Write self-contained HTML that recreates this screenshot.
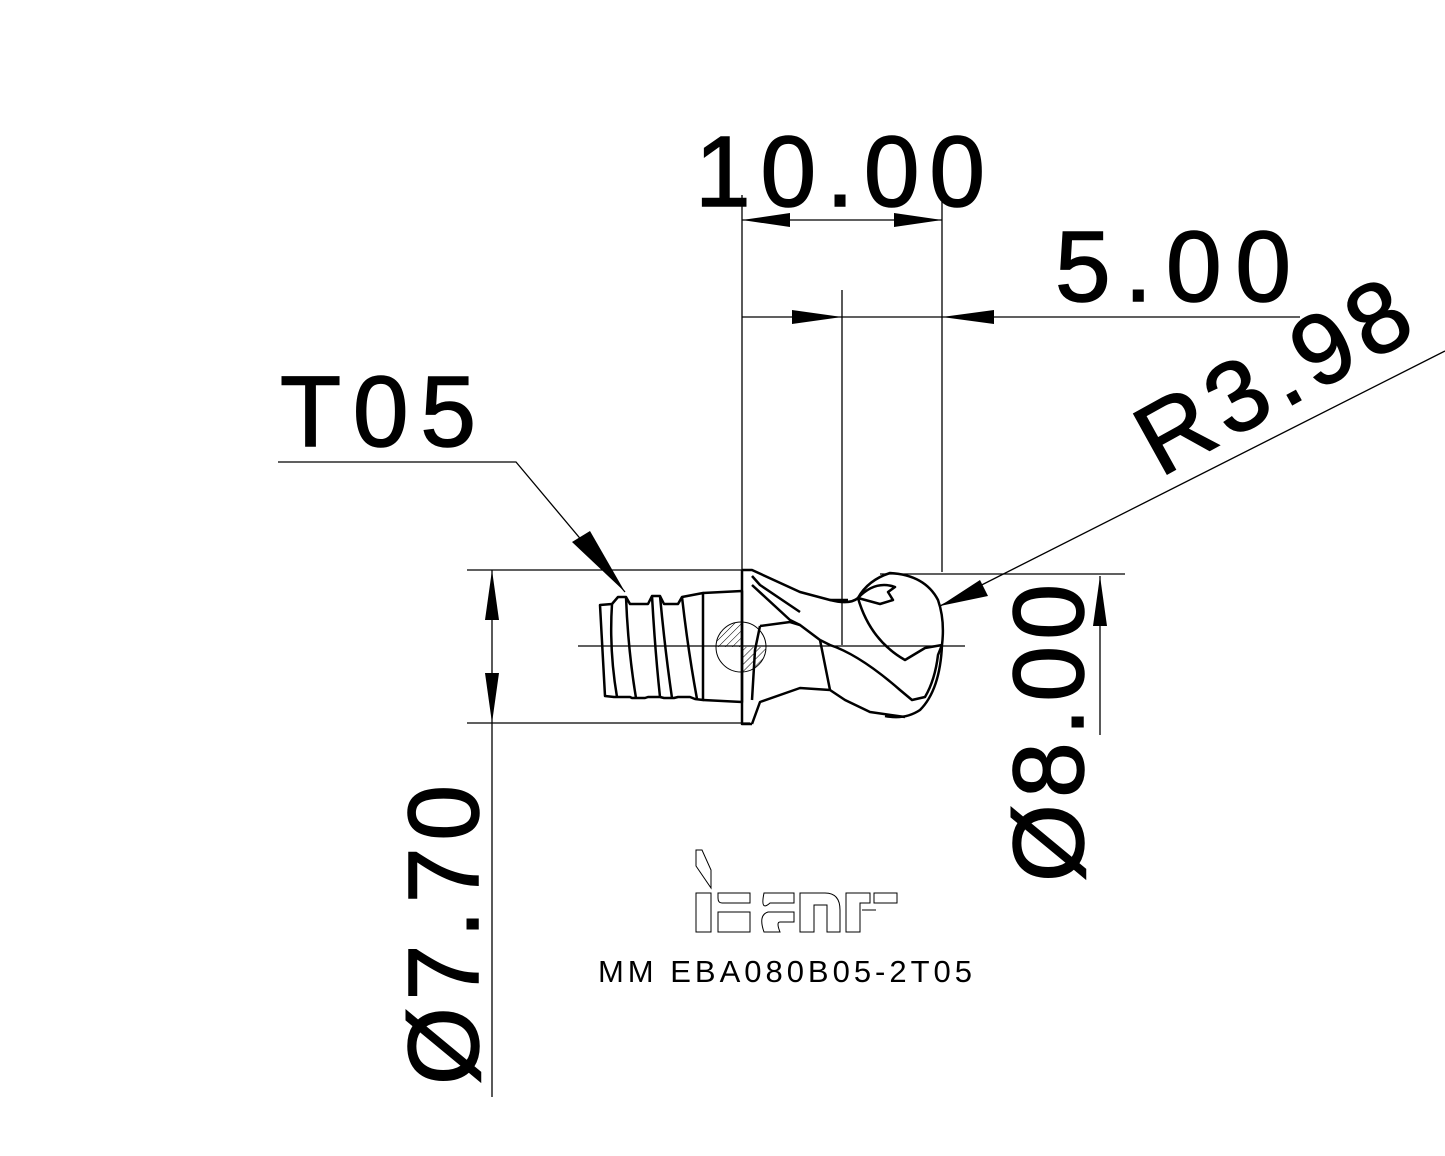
<!DOCTYPE html>
<html><head><meta charset="utf-8"><style>html,body{margin:0;padding:0;background:#fff}svg{display:block}</style></head>
<body>
<svg width="1445" height="1156" viewBox="0 0 1445 1156" xmlns="http://www.w3.org/2000/svg" font-family="Liberation Sans, sans-serif">
<defs>
<pattern id="h" width="5" height="5" patternUnits="userSpaceOnUse" patternTransform="rotate(45)"><line x1="0" y1="0" x2="0" y2="5" stroke="#000" stroke-width="1"/></pattern>
</defs>
<g stroke="#000" stroke-width="1.3" fill="none">
<line x1="742" y1="195" x2="742" y2="570"/>
<line x1="942" y1="195" x2="942" y2="572"/>
<line x1="742" y1="220" x2="942" y2="220"/>
<line x1="742" y1="317" x2="1300" y2="317"/>
<line x1="842" y1="290" x2="842" y2="645"/>
<line x1="578" y1="646" x2="965" y2="646"/>
<line x1="467" y1="570" x2="742" y2="570"/>
<line x1="467" y1="723" x2="750" y2="723"/>
<line x1="492" y1="570" x2="492" y2="1097"/>
<line x1="880" y1="574" x2="1125" y2="574"/>
<line x1="1100" y1="576" x2="1100" y2="735"/>
<polyline points="278,462 516,462 625,592"/>
<line x1="1445" y1="351" x2="940" y2="606"/>
</g>
<g fill="#000">
<polygon points="742,220 790,213 790,227"/>
<polygon points="942,220 894,213 894,227"/>
<polygon points="842,317 792,310 792,324"/>
<polygon points="942,317 994,310 994,324"/>
<polygon points="492,570 485,620 499,620"/>
<polygon points="492,723 485,673 499,673"/>
<polygon points="1100,576 1093,626 1107,626"/>
<polygon points="625,592 572,542 590,531"/>
<polygon points="940,606 980,580 988,596"/>
</g>
<g stroke="#000" stroke-width="2.5" fill="none" stroke-linejoin="round">
<path d="M600,605 L612,604 L618,597 L626,597 L630,604 L648,604 L652,596 L660,596 L664,604 L678,604 L682,597 L703,593 L703,700 L695,699 L690,697 L678,697 L674,698 L664,698 L660,697 L648,697 L645,698 L632,698 L630,697 L614,697 L605,696 Z"/>
<path d="M612,604 Q609,650 617,697 M626,597 Q628,650 636,698 M652,596 Q655,650 660,697 M660,596 Q665,650 672,698 M682,597 Q688,650 697,699"/>
<path d="M703,593 L742,591 L742,702 L703,700"/>
<path d="M742,570 L742,724 L752,724"/>
<path d="M742,570 L752,570 L800,592 L830,600 L848,600"/>
<path d="M752,576 L760,585 L800,612"/>
<path d="M752,585 L790,620 L800,625 L820,640"/>
<path d="M752,724 L760,702 L800,688 L830,690 L845,700 L870,712 L905,717"/>
<path d="M760,626 L790,622 L800,625 M760,626 L755,650 L752,700"/>
<path d="M858,598 Q868,580 890,573 Q925,575 938,600 Q945,620 942,645 Q940,690 920,710 Q905,720 885,716"/>
<path d="M858,598 L880,604 L893,600 L888,592 L895,587 Q875,580 858,598"/>
<path d="M830,600 Q850,605 858,598"/>
<path d="M820,640 L830,645 Q860,655 900,690 L912,700 L925,697 Q935,680 938,655 L942,645"/>
<path d="M820,640 L830,690"/>
<path d="M858,598 Q870,640 905,660 L925,648 L942,645"/>
</g>
<circle cx="741" cy="647" r="25" fill="none" stroke="#000" stroke-width="1"/>
<path d="M741,622 A25,25 0 0,0 716,647 L741,647 Z" fill="url(#h)"/>
<path d="M741,647 L766,647 A25,25 0 0,1 741,672 Z" fill="url(#h)"/>
<g fill="#000" stroke="#000" stroke-width="1.5" font-size="100">
<text x="695" y="206" textLength="290" lengthAdjust="spacing">10.00</text>
<text x="1055" y="301" textLength="236" lengthAdjust="spacing">5.00</text>
<text x="280" y="446" textLength="196" lengthAdjust="spacing">T05</text>
<text transform="translate(1160,478) rotate(-29)" textLength="296" lengthAdjust="spacing">R3.98</text>
<text transform="translate(478,1085) rotate(-90)" textLength="300" lengthAdjust="spacing">Ø7.70</text>
<text transform="translate(1083,882) rotate(-90)" textLength="298" lengthAdjust="spacing">Ø8.00</text>
</g>
<text x="598" y="982" font-size="31" fill="#000" textLength="374" lengthAdjust="spacing">MM  EBA080B05-2T05</text>
<g stroke="#000" stroke-width="1" fill="none">
<polygon points="696,850 702,850 711,870 711,888 696,866"/>
<rect x="696" y="893" width="15" height="39"/>
<path d="M718,893 H750 V903 H722 Q718,903 718,898 Z M718,912 H750 V932 H718 Z"/>
<path d="M764,893 H794 V903 H770 Q760,912 764,893 Z M764,932 Q758,915 768,912 H794 V922 H780 Q776,922 780,932 Z"/>
<path d="M800,932 V893 H825 Q840,893 840,910 V932 H827 V905 H814 V932 Z"/>
<path d="M846,932 V893 H870 V903 H860 V932 Z M874,893 H897 V903 H874 Z M862,910 H876"/>
</g>
</svg>
</body></html>
